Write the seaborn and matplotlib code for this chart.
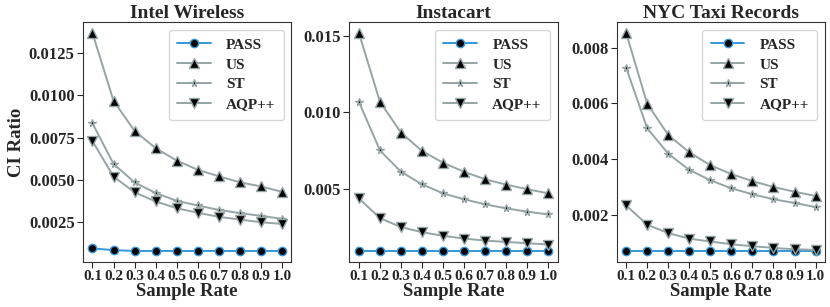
import matplotlib
matplotlib.use("Agg")
import matplotlib.pyplot as plt
from matplotlib.ticker import MultipleLocator
import seaborn as sns

rates = [0.1, 0.2, 0.3, 0.4, 0.5, 0.6, 0.7, 0.8, 0.9, 1.0]
rate_labels = ["0.1", "0.2", "0.3", "0.4", "0.5", "0.6", "0.7", "0.8", "0.9", "1.0"]
titles = ["Intel Wireless", "Instacart", "NYC Taxi Records"]
methods = ["PASS", "US", "ST", "AQP++"]

# Intel Wireless
intel_pass = [0.00095, 0.00085, 0.0008, 0.0008, 0.0008, 0.0008, 0.0008, 0.0008, 0.0008, 0.0008]
intel_us = [0.01369, 0.00968, 0.0079, 0.00688, 0.00615, 0.0056, 0.00522, 0.00486, 0.00462, 0.0043]
intel_st = [0.00835, 0.00595, 0.00486, 0.00423, 0.00377, 0.00349, 0.00323, 0.00304, 0.00288, 0.0027]
intel_aqp = [0.0073, 0.0052, 0.00427, 0.00373, 0.00333, 0.00306, 0.00282, 0.00266, 0.0025, 0.0024]

# Instacart
insta_pass = [0.00092, 0.00092, 0.00092, 0.00092, 0.00092, 0.00092, 0.00092, 0.00092, 0.00092, 0.00092]
insta_us = [0.01518, 0.01068, 0.00866, 0.00746, 0.00669, 0.0061, 0.00561, 0.00526, 0.00496, 0.00469]
insta_st = [0.01068, 0.0075, 0.0061, 0.00528, 0.00469, 0.0043, 0.00397, 0.00371, 0.00349, 0.00331]
insta_aqp = [0.00436, 0.00307, 0.00248, 0.00215, 0.00191, 0.00173, 0.0016, 0.00151, 0.00143, 0.00134]

# NYC Taxi
taxi_pass = [0.00072, 0.00072, 0.00072, 0.00072, 0.00072, 0.00072, 0.00072, 0.00072, 0.00072, 0.00072]
taxi_us = [0.00852, 0.00599, 0.00487, 0.00425, 0.00379, 0.00347, 0.00322, 0.00301, 0.00284, 0.00269]
taxi_st = [0.00728, 0.00511, 0.0042, 0.00362, 0.00325, 0.00296, 0.00275, 0.00257, 0.00244, 0.00229]
taxi_aqp = [0.00235, 0.00166, 0.00136, 0.00116, 0.00106, 0.00096, 0.00089, 0.00083, 0.00078, 0.00076]

data = [
    [intel_pass, intel_us, intel_st, intel_aqp],
    [insta_pass, insta_us, insta_st, insta_aqp],
    [taxi_pass, taxi_us, taxi_st, taxi_aqp],
]
y_steps = [0.0025, 0.005, 0.002]

sns.set_style("ticks")
plt.rcParams["font.family"] = ["Liberation Serif", "DejaVu Serif"]
plt.rcParams["font.weight"] = "bold"

blue = "#3498db"
gray = "#95a5a6"
styles = {
    "PASS": dict(color=blue, marker="o", markersize=6),
    "US": dict(color=gray, marker="^", markersize=6.5),
    "ST": dict(color=gray, marker="*", markersize=5.5),
    "AQP++": dict(color=gray, marker="v", markersize=6.5),
}

fig = plt.figure(figsize=(8.3, 3.07), dpi=100)
lefts = [0.100, 0.421, 0.743]
for i, left in enumerate(lefts):
    ax = fig.add_axes([left, 0.147, 0.251, 0.781])
    for name, vals in zip(methods, data[i]):
        st = styles[name]
        sns.lineplot(x=rates, y=vals, ax=ax, label=name, color=st["color"],
                     marker=st["marker"], markersize=st["markersize"],
                     markerfacecolor="black", markeredgecolor=st["color"],
                     markeredgewidth=1.0, linewidth=1.4)
    ax.set_title(titles[i], fontsize=14, fontweight="bold", pad=3)
    ax.set_xlabel("Sample Rate", fontsize=13.5, fontweight="bold", labelpad=0)
    if i == 0:
        ax.set_ylabel("CI Ratio", fontsize=13.5, fontweight="bold", labelpad=3)
    else:
        ax.set_ylabel("")
    ax.set_xticks(rates)
    ax.set_xticklabels(rate_labels)
    ax.yaxis.set_major_locator(MultipleLocator(y_steps[i]))
    ax.tick_params(axis="y", labelsize=12, length=4, pad=2)
    ax.tick_params(axis="x", labelsize=11, length=4, pad=2)
    for lab in ax.get_xticklabels() + ax.get_yticklabels():
        lab.set_fontweight("bold")
    for sp in ax.spines.values():
        sp.set_color("#333333")
    leg = ax.legend(loc="upper right", fontsize=11, handlelength=2.2, borderpad=0.55,
                    labelspacing=0.4, handletextpad=1.0)
    for t in leg.get_texts():
        t.set_fontweight("bold")

fig.savefig("out.png", dpi=100)
